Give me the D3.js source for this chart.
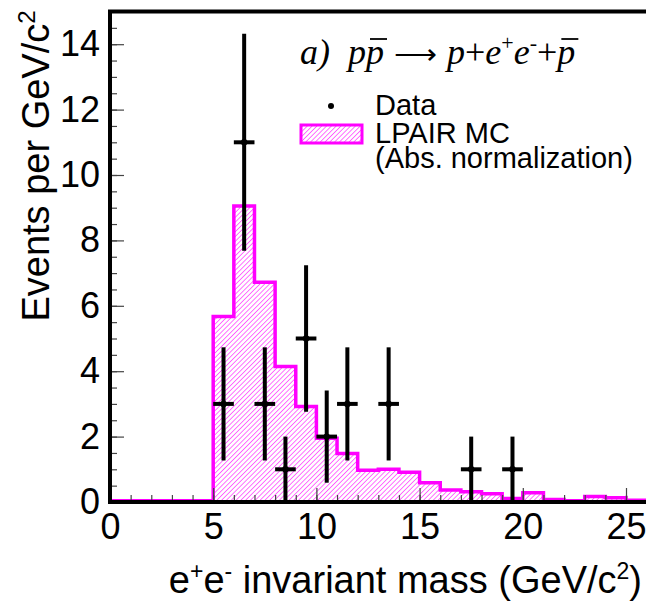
<!DOCTYPE html>
<html>
<head>
<meta charset="utf-8">
<script src="https://cdn.jsdelivr.net/npm/d3@7.9.0/dist/d3.min.js"></script>
<style>
  body { margin: 0; background: #fff; }
  svg { display: block; }
  text { font-family: "Liberation Sans", Arial, Helvetica, sans-serif; fill: #000; }
</style>
</head>
<body>
<div id="chart"></div>
<script>
// MC histogram: lower bin edges (GeV/c^2, 1 GeV bins) and events per bin
const mcLow = [0, 1, 2, 3, 4, 5, 6, 7, 8, 9, 10, 11, 12, 13, 14, 15, 16, 17, 18, 19, 20, 21, 22, 23, 24, 25, 26];
const mcValues = [0.04, 0.04, 0.04, 0.04, 0.04, 5.67, 9.05, 6.72, 4.14, 2.92, 1.95, 1.48, 0.97, 1.0, 0.91, 0.59, 0.37, 0.31, 0.25, 0.11, 0.28, 0.08, 0.04, 0.17, 0.13, 0.05, 0.05];
const mcBinWidth = 1;

// Data points (bin centres, counts, errors)
const dataMass = [5.5, 6.5, 7.5, 8.5, 9.5, 10.5, 11.5, 13.5, 17.5, 19.5];
const dataEvents = [3, 11, 3, 1, 5, 2, 3, 3, 1, 1];
const dataErr = [1.73, 3.32, 1.73, 1.0, 2.24, 1.41, 1.73, 1.73, 1.0, 1.0];

// Axis ticks
const xTickLabels = [0, 5, 10, 15, 20, 25];
const xMinorTicks = d3.range(0, 26, 1);
const yTickLabels = [0, 2, 4, 6, 8, 10, 12, 14];
const yMinorTicks = d3.range(0, 15, 0.5);

const width = 646;
const height = 602;
const magenta = "#ff00ff";

const svg = d3.select("#chart").append("svg")
  .attr("width", width)
  .attr("height", height);

svg.append("rect").attr("width", width).attr("height", height).attr("fill", "#fff");

// scales
const x = d3.scaleLinear().domain([0, 25]).range([110, 626]);
const y = d3.scaleLinear().domain([0, 15]).range([502, 11.5]);

// hatch pattern for the MC
const defs = svg.append("defs");
const pat = defs.append("pattern")
  .attr("id", "hatch")
  .attr("patternUnits", "userSpaceOnUse")
  .attr("width", 3.4)
  .attr("height", 3.4)
  .attr("patternTransform", "rotate(45)");
pat.append("line")
  .attr("x1", 0).attr("y1", 0)
  .attr("x2", 0).attr("y2", 3.4)
  .attr("stroke", magenta)
  .attr("stroke-width", 1.1);

// step points: one per bin plus the closing edge
const mcPoints = mcLow.map((lo, i) => [lo, mcValues[i]]);
mcPoints.push([mcLow[mcLow.length - 1] + mcBinWidth, mcValues[mcValues.length - 1]]);

const area = d3.area()
  .curve(d3.curveStepAfter)
  .x(d => x(d[0]))
  .y0(y(0))
  .y1(d => y(d[1]));

const line = d3.line()
  .curve(d3.curveStepAfter)
  .x(d => x(d[0]))
  .y(d => y(d[1]));

svg.append("path")
  .datum(mcPoints)
  .attr("d", area)
  .attr("fill", "url(#hatch)");

svg.append("path")
  .datum(mcPoints)
  .attr("d", line)
  .attr("fill", "none")
  .attr("stroke", magenta)
  .attr("stroke-width", 3.5);

// --- axes (ticks drawn inside the frame) ---
const yMinor = svg.append("g")
  .attr("transform", `translate(${x(0)},0)`)
  .call(d3.axisLeft(y).tickValues(yMinorTicks).tickSizeInner(-7).tickSizeOuter(0).tickFormat(""));
const yMajor = svg.append("g")
  .attr("transform", `translate(${x(0)},0)`)
  .call(d3.axisLeft(y).tickValues(yTickLabels).tickSizeInner(-14).tickSizeOuter(0).tickPadding(10));

const xMinor = svg.append("g")
  .attr("transform", `translate(0,${y(0)})`)
  .call(d3.axisBottom(x).tickValues(xMinorTicks).tickSizeInner(-7).tickSizeOuter(0).tickFormat(""));
const xMajor = svg.append("g")
  .attr("transform", `translate(0,${y(0)})`)
  .call(d3.axisBottom(x).tickValues(xTickLabels).tickSizeInner(-14).tickSizeOuter(0).tickPadding(11));

[yMinor, yMajor, xMinor, xMajor].forEach(g => {
  g.select(".domain").remove();
  g.selectAll(".tick line").attr("stroke", "#444").attr("stroke-width", 1.2);
  g.selectAll(".tick text")
    .style("font-family", "Liberation Sans, Arial, sans-serif")
    .style("font-size", "36px")
    .attr("fill", "#000");
});

// frame (right side runs off the picture)
svg.append("rect")
  .attr("x", x(0))
  .attr("y", y(15))
  .attr("width", 700)
  .attr("height", y(0) - y(15))
  .attr("fill", "none")
  .attr("stroke", "#000")
  .attr("stroke-width", 4);

// --- data points with error bars ---
const data = dataMass.map((m, i) => ({ m, v: dataEvents[i], e: dataErr[i] }));
const pts = svg.append("g");

pts.selectAll("line.vert")
  .data(data)
  .join("line")
  .attr("class", "vert")
  .attr("x1", d => x(d.m)).attr("x2", d => x(d.m))
  .attr("y1", d => y(Math.max(0, d.v - d.e)))
  .attr("y2", d => y(d.v + d.e))
  .attr("stroke", "#000")
  .attr("stroke-width", 4);

pts.selectAll("line.horiz")
  .data(data)
  .join("line")
  .attr("class", "horiz")
  .attr("x1", d => x(d.m - mcBinWidth / 2)).attr("x2", d => x(d.m + mcBinWidth / 2))
  .attr("y1", d => y(d.v)).attr("y2", d => y(d.v))
  .attr("stroke", "#000")
  .attr("stroke-width", 4);

pts.selectAll("circle")
  .data(data)
  .join("circle")
  .attr("cx", d => x(d.m))
  .attr("cy", d => y(d.v))
  .attr("r", 3.2)
  .attr("fill", "#000");

// --- axis titles ---
const xTitle = svg.append("text")
  .attr("x", 642)
  .attr("y", 593)
  .attr("text-anchor", "end")
  .style("font-size", "38px");
xTitle.append("tspan").text("e");
xTitle.append("tspan").attr("dy", -14).style("font-size", "23px").text("+");
xTitle.append("tspan").attr("dy", 14).text("e");
xTitle.append("tspan").attr("dy", -14).style("font-size", "23px").text("-");
xTitle.append("tspan").attr("dy", 14).text(" invariant mass (GeV/c");
xTitle.append("tspan").attr("dy", -14).style("font-size", "23px").text("2");
xTitle.append("tspan").attr("dy", 14).text(")");

const yTitle = svg.append("text")
  .attr("transform", "translate(49,166) rotate(-90)")
  .attr("text-anchor", "middle")
  .style("font-size", "38px");
yTitle.append("tspan").text("Events per GeV/c");
yTitle.append("tspan").attr("dy", -14).style("font-size", "24px").text("2");

// --- process label: a) p pbar -> p + e+e- + pbar ---
const title = svg.append("text")
  .attr("x", 300)
  .attr("y", 64)
  .style("font-family", "Liberation Serif, Times New Roman, serif")
  .style("font-style", "italic")
  .style("font-size", "36px");
title.append("tspan").text("a)");
title.append("tspan").attr("dx", 18).text("p");
const bar1 = title.append("tspan").text("p");
title.append("tspan").style("font-style", "normal").attr("dx", 10)
  .style("font-family", "DejaVu Sans, sans-serif").style("font-size", "30px").style("font-weight", "200")
  .text("\u27F6");
title.append("tspan").attr("dx", 10).text("p");
title.append("tspan").style("font-style", "normal").text("+");
title.append("tspan").text("e");
title.append("tspan").attr("dy", -14).style("font-size", "22px").style("font-style", "normal").text("+");
title.append("tspan").attr("dy", 14).text("e");
title.append("tspan").attr("dy", -14).style("font-size", "22px").style("font-style", "normal").text("-");
title.append("tspan").attr("dy", 14).style("font-style", "normal").text("+");
const bar2 = title.append("tspan").text("p");

// overlines over the anti-protons
[bar1, bar2].forEach(t => {
  const n = t.node();
  const x0 = n.getStartPositionOfChar(0).x;
  const x1 = n.getEndPositionOfChar(0).x;
  svg.append("line")
    .attr("x1", x0 + 4).attr("x2", x1 + 3)
    .attr("y1", 39).attr("y2", 39)
    .attr("stroke", "#000")
    .attr("stroke-width", 1.8);
});

// --- legend ---
const legend = svg.append("g");
legend.append("circle").attr("cx", 331).attr("cy", 106).attr("r", 3).attr("fill", "#000");
legend.append("text").attr("x", 375).attr("y", 115).style("font-size", "29px").text("Data");
legend.append("rect")
  .attr("x", 301).attr("y", 125)
  .attr("width", 61).attr("height", 18)
  .attr("fill", "url(#hatch)")
  .attr("stroke", magenta)
  .attr("stroke-width", 3);
legend.append("text").attr("x", 375).attr("y", 143).style("font-size", "29px").text("LPAIR MC");
legend.append("text").attr("x", 375).attr("y", 168).style("font-size", "29px").text("(Abs. normalization)");
</script>
</body>
</html>
